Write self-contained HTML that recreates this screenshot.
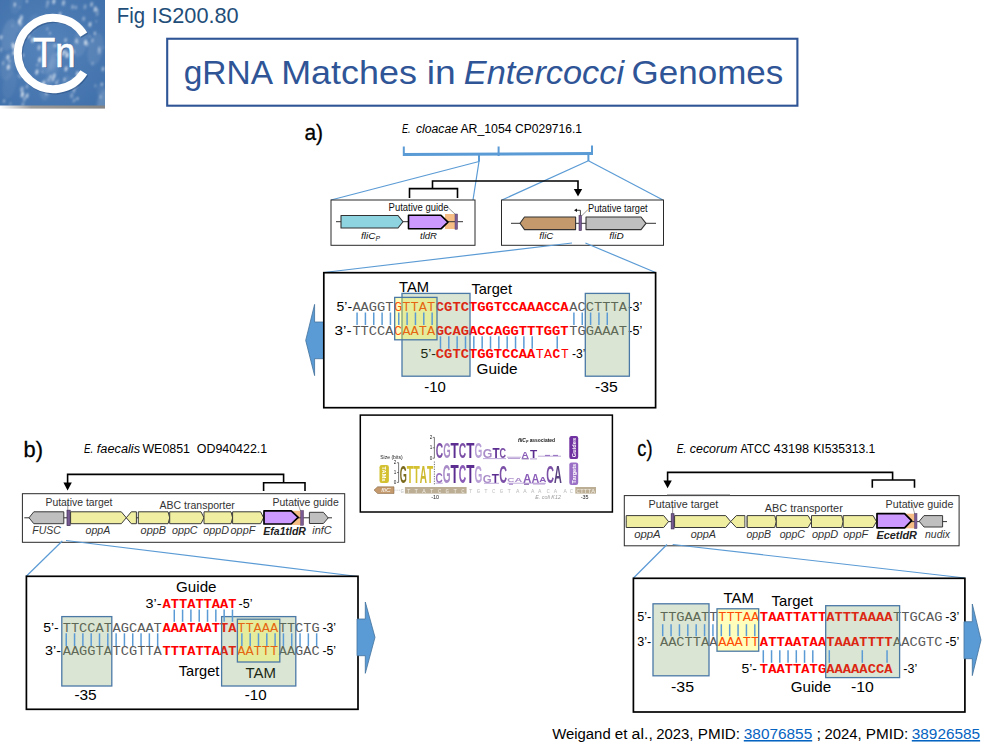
<!DOCTYPE html>
<html lang="en"><head><meta charset="utf-8"><title>gRNA Matches in Entercocci Genomes</title>
<style>
html,body{margin:0;padding:0;background:#fff;}
body{width:1000px;height:750px;overflow:hidden;}
svg{display:block;}
text{white-space:pre;}
</style></head><body>
<svg width="1000" height="750" viewBox="0 0 1000 750">
<defs>
<radialGradient id="lg" cx="0.45" cy="0.45" r="0.8"><stop offset="0" stop-color="#5583bb"/><stop offset="1" stop-color="#3f6fa9"/></radialGradient>
<filter id="sh" x="-20%" y="-20%" width="140%" height="140%"><feGaussianBlur stdDeviation="0.6"/></filter>
</defs>
<linearGradient id="sg" x1="0" x2="1" y1="0" y2="0"><stop offset="0" stop-color="#fff"/><stop offset="0.3" stop-color="#9a9a9a"/><stop offset="1" stop-color="#858585"/></linearGradient>
<filter id="sp" x="-5%" y="-5%" width="110%" height="110%"><feGaussianBlur stdDeviation="0.9"/></filter>
<clipPath id="lc"><rect x="0" y="0" width="105" height="105.5"/></clipPath>
<rect x="0.00" y="105.00" width="105.00" height="3.60" fill="url(#sg)" />
<rect x="0.00" y="0.00" width="105.00" height="105.50" fill="url(#lg)" />
<g clip-path="url(#lc)"><g filter="url(#sp)">
<ellipse cx="47.5" cy="58.8" rx="7.4" ry="15.8" fill="#fff" opacity="0.08" transform="rotate(12 47.5 58.8)"/>
<ellipse cx="53.3" cy="61.7" rx="4.3" ry="9.2" fill="#fff" opacity="0.09" transform="rotate(12 53.3 61.7)"/>
<ellipse cx="66.1" cy="83.3" rx="3.9" ry="8.3" fill="#fff" opacity="0.07" transform="rotate(12 66.1 83.3)"/>
<ellipse cx="9.5" cy="85.0" rx="6.4" ry="13.7" fill="#fff" opacity="0.05" transform="rotate(12 9.5 85.0)"/>
<ellipse cx="103.1" cy="101.3" rx="6.2" ry="13.4" fill="#fff" opacity="0.09" transform="rotate(12 103.1 101.3)"/>
<ellipse cx="16.5" cy="1.6" rx="5.7" ry="12.3" fill="#fff" opacity="0.05" transform="rotate(12 16.5 1.6)"/>
<ellipse cx="20.0" cy="25.4" rx="3.6" ry="7.8" fill="#fff" opacity="0.08" transform="rotate(12 20.0 25.4)"/>
<ellipse cx="46.3" cy="88.5" rx="5.7" ry="12.2" fill="#fff" opacity="0.09" transform="rotate(12 46.3 88.5)"/>
<ellipse cx="52.5" cy="69.6" rx="5.4" ry="11.6" fill="#fff" opacity="0.07" transform="rotate(12 52.5 69.6)"/>
<ellipse cx="104.8" cy="104.5" rx="7.0" ry="15.1" fill="#fff" opacity="0.10" transform="rotate(12 104.8 104.5)"/>
<ellipse cx="33.1" cy="24.1" rx="4.7" ry="10.1" fill="#fff" opacity="0.05" transform="rotate(12 33.1 24.1)"/>
<ellipse cx="80.5" cy="42.0" rx="7.1" ry="15.1" fill="#fff" opacity="0.08" transform="rotate(12 80.5 42.0)"/>
<ellipse cx="100.6" cy="89.0" rx="3.5" ry="7.5" fill="#fff" opacity="0.06" transform="rotate(12 100.6 89.0)"/>
<ellipse cx="95.6" cy="49.3" rx="7.6" ry="16.3" fill="#fff" opacity="0.08" transform="rotate(12 95.6 49.3)"/>
<ellipse cx="7.7" cy="66.1" rx="6.8" ry="14.5" fill="#fff" opacity="0.07" transform="rotate(12 7.7 66.1)"/>
<ellipse cx="9.2" cy="34.9" rx="7.5" ry="16.2" fill="#fff" opacity="0.10" transform="rotate(12 9.2 34.9)"/>
<ellipse cx="12.4" cy="25.9" rx="0.7" ry="1.4" fill="#fff" opacity="0.28" transform="rotate(12 12.4 25.9)"/>
<ellipse cx="83.7" cy="18.7" rx="1.2" ry="2.2" fill="#fff" opacity="0.45" transform="rotate(12 83.7 18.7)"/>
<ellipse cx="20.0" cy="76.8" rx="0.8" ry="1.4" fill="#fff" opacity="0.54" transform="rotate(12 20.0 76.8)"/>
<ellipse cx="12.2" cy="44.2" rx="0.8" ry="1.6" fill="#fff" opacity="0.37" transform="rotate(12 12.2 44.2)"/>
<ellipse cx="101.9" cy="84.4" rx="0.9" ry="1.7" fill="#fff" opacity="0.65" transform="rotate(12 101.9 84.4)"/>
<ellipse cx="22.1" cy="41.4" rx="1.5" ry="2.7" fill="#fff" opacity="0.54" transform="rotate(12 22.1 41.4)"/>
<ellipse cx="10.5" cy="103.9" rx="0.8" ry="1.6" fill="#fff" opacity="0.37" transform="rotate(12 10.5 103.9)"/>
<ellipse cx="81.1" cy="34.5" rx="0.9" ry="1.7" fill="#fff" opacity="0.28" transform="rotate(12 81.1 34.5)"/>
<ellipse cx="9.5" cy="61.2" rx="0.9" ry="1.6" fill="#fff" opacity="0.52" transform="rotate(12 9.5 61.2)"/>
<ellipse cx="39.0" cy="47.6" rx="1.6" ry="2.9" fill="#fff" opacity="0.47" transform="rotate(12 39.0 47.6)"/>
<ellipse cx="60.3" cy="91.0" rx="0.8" ry="1.5" fill="#fff" opacity="0.32" transform="rotate(12 60.3 91.0)"/>
<ellipse cx="95.4" cy="85.9" rx="0.9" ry="1.6" fill="#fff" opacity="0.34" transform="rotate(12 95.4 85.9)"/>
<ellipse cx="77.6" cy="98.7" rx="0.8" ry="1.6" fill="#fff" opacity="0.68" transform="rotate(12 77.6 98.7)"/>
<ellipse cx="92.6" cy="63.4" rx="1.0" ry="2.0" fill="#fff" opacity="0.30" transform="rotate(12 92.6 63.4)"/>
<ellipse cx="4.1" cy="101.1" rx="0.9" ry="1.6" fill="#fff" opacity="0.57" transform="rotate(12 4.1 101.1)"/>
<ellipse cx="27.0" cy="86.5" rx="1.2" ry="2.3" fill="#fff" opacity="0.38" transform="rotate(12 27.0 86.5)"/>
<ellipse cx="18.4" cy="75.6" rx="0.7" ry="1.3" fill="#fff" opacity="0.35" transform="rotate(12 18.4 75.6)"/>
<ellipse cx="58.7" cy="89.5" rx="1.2" ry="2.3" fill="#fff" opacity="0.38" transform="rotate(12 58.7 89.5)"/>
<ellipse cx="96.3" cy="21.4" rx="0.7" ry="1.2" fill="#fff" opacity="0.37" transform="rotate(12 96.3 21.4)"/>
<ellipse cx="46.8" cy="6.3" rx="0.8" ry="1.5" fill="#fff" opacity="0.42" transform="rotate(12 46.8 6.3)"/>
<ellipse cx="60.1" cy="13.8" rx="1.0" ry="1.9" fill="#fff" opacity="0.65" transform="rotate(12 60.1 13.8)"/>
<ellipse cx="103.0" cy="69.0" rx="1.3" ry="2.4" fill="#fff" opacity="0.51" transform="rotate(12 103.0 69.0)"/>
<ellipse cx="14.7" cy="3.7" rx="0.7" ry="1.2" fill="#fff" opacity="0.66" transform="rotate(12 14.7 3.7)"/>
<ellipse cx="73.6" cy="101.1" rx="0.7" ry="1.2" fill="#fff" opacity="0.54" transform="rotate(12 73.6 101.1)"/>
<ellipse cx="50.6" cy="76.7" rx="0.9" ry="1.8" fill="#fff" opacity="0.70" transform="rotate(12 50.6 76.7)"/>
<ellipse cx="7.9" cy="57.3" rx="1.3" ry="2.5" fill="#fff" opacity="0.66" transform="rotate(12 7.9 57.3)"/>
<ellipse cx="77.4" cy="73.9" rx="1.4" ry="2.6" fill="#fff" opacity="0.66" transform="rotate(12 77.4 73.9)"/>
<ellipse cx="36.9" cy="71.9" rx="1.5" ry="2.8" fill="#fff" opacity="0.64" transform="rotate(12 36.9 71.9)"/>
<ellipse cx="43.8" cy="83.0" rx="1.5" ry="2.8" fill="#fff" opacity="0.51" transform="rotate(12 43.8 83.0)"/>
<ellipse cx="65.6" cy="40.1" rx="1.2" ry="2.2" fill="#fff" opacity="0.52" transform="rotate(12 65.6 40.1)"/>
<ellipse cx="8.4" cy="67.1" rx="1.6" ry="3.0" fill="#fff" opacity="0.65" transform="rotate(12 8.4 67.1)"/>
<ellipse cx="76.5" cy="40.8" rx="1.3" ry="2.5" fill="#fff" opacity="0.51" transform="rotate(12 76.5 40.8)"/>
<ellipse cx="46.3" cy="88.0" rx="0.7" ry="1.4" fill="#fff" opacity="0.59" transform="rotate(12 46.3 88.0)"/>
<ellipse cx="3.1" cy="63.1" rx="1.1" ry="2.1" fill="#fff" opacity="0.35" transform="rotate(12 3.1 63.1)"/>
<ellipse cx="73.3" cy="52.2" rx="1.2" ry="2.3" fill="#fff" opacity="0.66" transform="rotate(12 73.3 52.2)"/>
<ellipse cx="26.9" cy="1.2" rx="0.9" ry="1.7" fill="#fff" opacity="0.56" transform="rotate(12 26.9 1.2)"/>
<ellipse cx="21.3" cy="17.8" rx="1.5" ry="2.8" fill="#fff" opacity="0.55" transform="rotate(12 21.3 17.8)"/>
<ellipse cx="46.4" cy="93.6" rx="1.0" ry="1.8" fill="#fff" opacity="0.55" transform="rotate(12 46.4 93.6)"/>
<ellipse cx="20.8" cy="45.2" rx="1.4" ry="2.7" fill="#fff" opacity="0.66" transform="rotate(12 20.8 45.2)"/>
<ellipse cx="92.4" cy="40.4" rx="1.2" ry="2.2" fill="#fff" opacity="0.39" transform="rotate(12 92.4 40.4)"/>
<ellipse cx="14.3" cy="52.1" rx="1.4" ry="2.7" fill="#fff" opacity="0.63" transform="rotate(12 14.3 52.1)"/>
<ellipse cx="74.7" cy="99.8" rx="0.9" ry="1.7" fill="#fff" opacity="0.33" transform="rotate(12 74.7 99.8)"/>
<ellipse cx="47.3" cy="28.9" rx="0.8" ry="1.6" fill="#fff" opacity="0.44" transform="rotate(12 47.3 28.9)"/>
<ellipse cx="65.7" cy="51.9" rx="0.9" ry="1.8" fill="#fff" opacity="0.63" transform="rotate(12 65.7 51.9)"/>
<ellipse cx="103.1" cy="47.5" rx="0.7" ry="1.3" fill="#fff" opacity="0.26" transform="rotate(12 103.1 47.5)"/>
<ellipse cx="91.6" cy="4.4" rx="1.3" ry="2.5" fill="#fff" opacity="0.51" transform="rotate(12 91.6 4.4)"/>
<ellipse cx="32.4" cy="83.1" rx="0.7" ry="1.2" fill="#fff" opacity="0.31" transform="rotate(12 32.4 83.1)"/>
<ellipse cx="47.8" cy="2.6" rx="1.4" ry="2.7" fill="#fff" opacity="0.36" transform="rotate(12 47.8 2.6)"/>
<ellipse cx="14.8" cy="4.9" rx="1.2" ry="2.3" fill="#fff" opacity="0.45" transform="rotate(12 14.8 4.9)"/>
<ellipse cx="66.1" cy="68.8" rx="1.4" ry="2.7" fill="#fff" opacity="0.68" transform="rotate(12 66.1 68.8)"/>
<ellipse cx="71.9" cy="20.9" rx="1.1" ry="2.1" fill="#fff" opacity="0.33" transform="rotate(12 71.9 20.9)"/>
<ellipse cx="1.1" cy="49.6" rx="1.3" ry="2.5" fill="#fff" opacity="0.33" transform="rotate(12 1.1 49.6)"/>
<ellipse cx="28.6" cy="36.3" rx="1.3" ry="2.5" fill="#fff" opacity="0.48" transform="rotate(12 28.6 36.3)"/>
<ellipse cx="64.5" cy="79.4" rx="1.0" ry="1.9" fill="#fff" opacity="0.61" transform="rotate(12 64.5 79.4)"/>
<ellipse cx="95.2" cy="9.2" rx="1.5" ry="2.9" fill="#fff" opacity="0.58" transform="rotate(12 95.2 9.2)"/>
<ellipse cx="13.6" cy="47.6" rx="1.2" ry="2.3" fill="#fff" opacity="0.66" transform="rotate(12 13.6 47.6)"/>
<ellipse cx="39.6" cy="59.7" rx="1.5" ry="2.8" fill="#fff" opacity="0.61" transform="rotate(12 39.6 59.7)"/>
<ellipse cx="99.1" cy="48.7" rx="1.3" ry="2.4" fill="#fff" opacity="0.34" transform="rotate(12 99.1 48.7)"/>
<ellipse cx="75.8" cy="85.9" rx="1.3" ry="2.4" fill="#fff" opacity="0.57" transform="rotate(12 75.8 85.9)"/>
<ellipse cx="22.4" cy="94.5" rx="1.6" ry="3.0" fill="#fff" opacity="0.69" transform="rotate(12 22.4 94.5)"/>
<ellipse cx="56.4" cy="83.0" rx="0.9" ry="1.8" fill="#fff" opacity="0.66" transform="rotate(12 56.4 83.0)"/>
<ellipse cx="89.9" cy="36.6" rx="0.7" ry="1.3" fill="#fff" opacity="0.45" transform="rotate(12 89.9 36.6)"/>
<ellipse cx="57.8" cy="80.7" rx="1.1" ry="2.1" fill="#fff" opacity="0.26" transform="rotate(12 57.8 80.7)"/>
<ellipse cx="85.0" cy="6.7" rx="1.4" ry="2.6" fill="#fff" opacity="0.33" transform="rotate(12 85.0 6.7)"/>
<ellipse cx="35.2" cy="82.7" rx="0.8" ry="1.5" fill="#fff" opacity="0.32" transform="rotate(12 35.2 82.7)"/>
<ellipse cx="54.2" cy="76.0" rx="1.4" ry="2.7" fill="#fff" opacity="0.56" transform="rotate(12 54.2 76.0)"/>
<ellipse cx="99.3" cy="51.7" rx="1.6" ry="2.9" fill="#fff" opacity="0.29" transform="rotate(12 99.3 51.7)"/>
<ellipse cx="23.2" cy="55.3" rx="0.9" ry="1.7" fill="#fff" opacity="0.58" transform="rotate(12 23.2 55.3)"/>
<ellipse cx="67.1" cy="54.9" rx="1.4" ry="2.7" fill="#fff" opacity="0.50" transform="rotate(12 67.1 54.9)"/>
<ellipse cx="32.7" cy="40.0" rx="1.5" ry="2.7" fill="#fff" opacity="0.66" transform="rotate(12 32.7 40.0)"/>
<ellipse cx="21.9" cy="89.3" rx="1.6" ry="2.9" fill="#fff" opacity="0.49" transform="rotate(12 21.9 89.3)"/>
<ellipse cx="60.2" cy="21.1" rx="1.2" ry="2.2" fill="#fff" opacity="0.48" transform="rotate(12 60.2 21.1)"/>
<ellipse cx="63.5" cy="2.9" rx="1.6" ry="2.9" fill="#fff" opacity="0.48" transform="rotate(12 63.5 2.9)"/>
<ellipse cx="42.1" cy="84.1" rx="1.2" ry="2.2" fill="#fff" opacity="0.47" transform="rotate(12 42.1 84.1)"/>
<ellipse cx="72.6" cy="6.9" rx="1.2" ry="2.2" fill="#fff" opacity="0.44" transform="rotate(12 72.6 6.9)"/>
<ellipse cx="100.5" cy="97.0" rx="0.9" ry="1.7" fill="#fff" opacity="0.46" transform="rotate(12 100.5 97.0)"/>
<ellipse cx="13.3" cy="45.5" rx="1.4" ry="2.7" fill="#fff" opacity="0.66" transform="rotate(12 13.3 45.5)"/>
<ellipse cx="50.0" cy="33.3" rx="0.8" ry="1.5" fill="#fff" opacity="0.53" transform="rotate(12 50.0 33.3)"/>
<ellipse cx="97.2" cy="13.6" rx="1.4" ry="2.6" fill="#fff" opacity="0.26" transform="rotate(12 97.2 13.6)"/>
<ellipse cx="20.4" cy="23.9" rx="1.3" ry="2.4" fill="#fff" opacity="0.39" transform="rotate(12 20.4 23.9)"/>
<ellipse cx="37.3" cy="65.1" rx="0.7" ry="1.4" fill="#fff" opacity="0.58" transform="rotate(12 37.3 65.1)"/>
<ellipse cx="12.9" cy="53.6" rx="0.9" ry="1.7" fill="#fff" opacity="0.34" transform="rotate(12 12.9 53.6)"/>
<ellipse cx="55.7" cy="45.9" rx="1.0" ry="1.9" fill="#fff" opacity="0.44" transform="rotate(12 55.7 45.9)"/>
<ellipse cx="55.6" cy="16.8" rx="0.8" ry="1.6" fill="#fff" opacity="0.53" transform="rotate(12 55.6 16.8)"/>
<ellipse cx="67.0" cy="55.6" rx="1.5" ry="2.7" fill="#fff" opacity="0.53" transform="rotate(12 67.0 55.6)"/>
<ellipse cx="90.0" cy="24.4" rx="1.4" ry="2.5" fill="#fff" opacity="0.61" transform="rotate(12 90.0 24.4)"/>
<ellipse cx="94.8" cy="33.2" rx="0.9" ry="1.8" fill="#fff" opacity="0.67" transform="rotate(12 94.8 33.2)"/>
<ellipse cx="22.9" cy="104.8" rx="1.5" ry="2.8" fill="#fff" opacity="0.31" transform="rotate(12 22.9 104.8)"/>
<ellipse cx="25.1" cy="76.3" rx="0.9" ry="1.7" fill="#fff" opacity="0.29" transform="rotate(12 25.1 76.3)"/>
<ellipse cx="87.4" cy="44.3" rx="1.4" ry="2.6" fill="#fff" opacity="0.31" transform="rotate(12 87.4 44.3)"/>
<ellipse cx="42.3" cy="71.9" rx="0.7" ry="1.2" fill="#fff" opacity="0.34" transform="rotate(12 42.3 71.9)"/>
<ellipse cx="71.7" cy="95.7" rx="1.6" ry="2.9" fill="#fff" opacity="0.30" transform="rotate(12 71.7 95.7)"/>
<ellipse cx="53.1" cy="79.6" rx="1.1" ry="2.1" fill="#fff" opacity="0.56" transform="rotate(12 53.1 79.6)"/>
<ellipse cx="19.8" cy="7.4" rx="0.7" ry="1.4" fill="#fff" opacity="0.27" transform="rotate(12 19.8 7.4)"/>
<ellipse cx="57.9" cy="54.1" rx="1.2" ry="2.2" fill="#fff" opacity="0.32" transform="rotate(12 57.9 54.1)"/>
<ellipse cx="19.4" cy="21.4" rx="1.4" ry="2.7" fill="#fff" opacity="0.70" transform="rotate(12 19.4 21.4)"/>
<ellipse cx="97.3" cy="10.0" rx="0.7" ry="1.3" fill="#fff" opacity="0.68" transform="rotate(12 97.3 10.0)"/>
<ellipse cx="48.5" cy="80.3" rx="1.0" ry="1.8" fill="#fff" opacity="0.46" transform="rotate(12 48.5 80.3)"/>
<ellipse cx="54.1" cy="45.2" rx="1.2" ry="2.3" fill="#fff" opacity="0.26" transform="rotate(12 54.1 45.2)"/>
<ellipse cx="73.6" cy="88.6" rx="0.8" ry="1.5" fill="#fff" opacity="0.45" transform="rotate(12 73.6 88.6)"/>
<ellipse cx="77.6" cy="42.6" rx="0.8" ry="1.6" fill="#fff" opacity="0.32" transform="rotate(12 77.6 42.6)"/>
<ellipse cx="53.8" cy="1.6" rx="1.5" ry="2.8" fill="#fff" opacity="0.61" transform="rotate(12 53.8 1.6)"/>
<ellipse cx="74.0" cy="90.4" rx="1.2" ry="2.3" fill="#fff" opacity="0.43" transform="rotate(12 74.0 90.4)"/>
<ellipse cx="63.0" cy="53.0" rx="1.6" ry="3.0" fill="#fff" opacity="0.61" transform="rotate(12 63.0 53.0)"/>
<ellipse cx="27.1" cy="95.7" rx="1.4" ry="2.5" fill="#fff" opacity="0.60" transform="rotate(12 27.1 95.7)"/>
<ellipse cx="85.5" cy="42.6" rx="1.5" ry="2.8" fill="#fff" opacity="0.65" transform="rotate(12 85.5 42.6)"/>
<ellipse cx="73.0" cy="80.6" rx="1.4" ry="2.6" fill="#fff" opacity="0.43" transform="rotate(12 73.0 80.6)"/>
<ellipse cx="75.9" cy="7.4" rx="1.0" ry="1.8" fill="#fff" opacity="0.46" transform="rotate(12 75.9 7.4)"/>
<ellipse cx="1.1" cy="37.3" rx="1.3" ry="2.3" fill="#fff" opacity="0.53" transform="rotate(12 1.1 37.3)"/>
<ellipse cx="24.4" cy="99.2" rx="1.3" ry="2.4" fill="#fff" opacity="0.40" transform="rotate(12 24.4 99.2)"/>
</g></g>
<path d="M84.78,35.78 A35.7,35.7 0 1 0 84.78,73.62" fill="none" stroke="#2c4f80" stroke-opacity="0.55" stroke-width="8" filter="url(#sh)"/>
<path d="M83.78,34.58 A35.7,35.7 0 1 0 83.78,72.42" fill="none" stroke="#fff" stroke-width="8"/>
<text x="34.20" y="68.20" font-size="43" fill="#2c4f80" font-family='"Liberation Sans", "DejaVu Sans", sans-serif' textLength="42.50" lengthAdjust="spacingAndGlyphs" opacity="0.5" filter="url(#sh)">Tn</text>
<text x="33.00" y="67.00" font-size="43" fill="#fff" font-family='"Liberation Sans", "DejaVu Sans", sans-serif' textLength="42.50" lengthAdjust="spacingAndGlyphs" stroke="#fff" stroke-width="0.7">Tn</text>
<text x="116.70" y="23.30" font-size="21.6" fill="#1f4e79" font-family='"Liberation Sans", "DejaVu Sans", sans-serif' textLength="28.30" lengthAdjust="spacingAndGlyphs" >Fig</text>
<text x="151.70" y="23.30" font-size="21.6" fill="#1f4e79" font-family='"Liberation Sans", "DejaVu Sans", sans-serif' textLength="87.00" lengthAdjust="spacingAndGlyphs" >IS200.80</text>
<rect x="167.20" y="38.75" width="630.20" height="66.95" fill="none" stroke="#2f5597" stroke-width="2.1" />
<text x="183.75" y="84.40" font-size="33.8" fill="#2f5597" font-family='"Liberation Sans", "DejaVu Sans", sans-serif' textLength="89.30" lengthAdjust="spacingAndGlyphs" >gRNA</text>
<text x="281.15" y="84.40" font-size="33.8" fill="#2f5597" font-family='"Liberation Sans", "DejaVu Sans", sans-serif' textLength="135.70" lengthAdjust="spacingAndGlyphs" >Matches</text>
<text x="426.75" y="84.40" font-size="33.8" fill="#2f5597" font-family='"Liberation Sans", "DejaVu Sans", sans-serif' textLength="29.00" lengthAdjust="spacingAndGlyphs" >in</text>
<text x="463.75" y="84.40" font-size="33.8" fill="#2f5597" font-family='"Liberation Sans", "DejaVu Sans", sans-serif' textLength="160.30" lengthAdjust="spacingAndGlyphs" font-style="italic" >Entercocci</text>
<text x="631.55" y="84.40" font-size="33.8" fill="#2f5597" font-family='"Liberation Sans", "DejaVu Sans", sans-serif' textLength="151.70" lengthAdjust="spacingAndGlyphs" >Genomes</text>
<text x="304.40" y="139.80" font-size="22.3" fill="#000" font-family='"Liberation Sans", "DejaVu Sans", sans-serif' textLength="18.60" lengthAdjust="spacingAndGlyphs" stroke="#000" stroke-width="0.3">a)</text>
<text x="402.00" y="132.70" font-size="12" fill="#000" font-family='"Liberation Sans", "DejaVu Sans", sans-serif' textLength="8.60" lengthAdjust="spacingAndGlyphs" font-style="italic" >E.</text>
<text x="416.00" y="132.70" font-size="12" fill="#000" font-family='"Liberation Sans", "DejaVu Sans", sans-serif' textLength="42.00" lengthAdjust="spacingAndGlyphs" font-style="italic" >cloacae</text>
<text x="460.40" y="132.70" font-size="12" fill="#000" font-family='"Liberation Sans", "DejaVu Sans", sans-serif' textLength="51.20" lengthAdjust="spacingAndGlyphs" >AR_1054</text>
<text x="515.00" y="132.70" font-size="12" fill="#000" font-family='"Liberation Sans", "DejaVu Sans", sans-serif' textLength="67.00" lengthAdjust="spacingAndGlyphs" >CP029716.1</text>
<line x1="403.40" y1="154.60" x2="592.60" y2="153.60" stroke="#5b9bd5" stroke-width="3" />
<line x1="403.80" y1="146.50" x2="403.80" y2="156.00" stroke="#5b9bd5" stroke-width="2" />
<line x1="592.00" y1="145.50" x2="592.00" y2="155.00" stroke="#5b9bd5" stroke-width="2" />
<line x1="498.60" y1="146.50" x2="498.60" y2="156.00" stroke="#5b9bd5" stroke-width="2" />
<line x1="479.00" y1="154.00" x2="479.00" y2="161.80" stroke="#5b9bd5" stroke-width="2" />
<line x1="588.40" y1="154.00" x2="588.40" y2="161.00" stroke="#5b9bd5" stroke-width="2" />
<line x1="479.00" y1="161.50" x2="331.00" y2="200.00" stroke="#5b9bd5" stroke-width="1.2" />
<line x1="479.00" y1="161.50" x2="473.00" y2="200.00" stroke="#5b9bd5" stroke-width="1.2" />
<line x1="588.40" y1="160.80" x2="502.00" y2="200.00" stroke="#5b9bd5" stroke-width="1.2" />
<line x1="588.40" y1="160.80" x2="663.00" y2="200.00" stroke="#5b9bd5" stroke-width="1.2" />
<polyline points="409.50,198.00 409.50,188.60 457.50,188.60 457.50,198.00" fill="none" stroke="#000" stroke-width="1.6" />
<polyline points="432.50,188.60 432.50,181.00 578.00,181.00 578.00,190.00" fill="none" stroke="#000" stroke-width="1.6" />
<polygon points="573.80,189.00 582.20,189.00 578.00,196.60" fill="#000" />
<rect x="331.00" y="200.00" width="144.00" height="45.30" fill="#fff" stroke="#2a2a2a" stroke-width="1" />
<rect x="445.00" y="214.00" width="12.40" height="15.00" fill="#f6bd84" />
<line x1="336.00" y1="221.70" x2="463.00" y2="221.70" stroke="#333" stroke-width="1" />
<polygon points="341.00,215.50 398.00,215.50 403.00,221.75 398.00,228.00 341.00,228.00" fill="#8dd3e0" stroke="#333" stroke-width="1.1" stroke-linejoin="round"/>
<polygon points="408.50,215.30 441.00,215.30 448.00,222.05 441.00,228.80 408.50,228.80" fill="#cc99ff" stroke="#000" stroke-width="1.6" stroke-linejoin="round"/>
<rect x="455.00" y="214.00" width="2.50" height="15.30" fill="#7a5c94" stroke="#5a4070" stroke-width="0.5" />
<line x1="448.00" y1="207.50" x2="455.50" y2="214.50" stroke="#666" stroke-width="0.7" />
<text x="388.60" y="210.60" font-size="10" fill="#111" font-family='"Liberation Sans", "DejaVu Sans", sans-serif' textLength="60.00" lengthAdjust="spacingAndGlyphs" >Putative guide</text>
<text x="361.00" y="239.00" font-size="9.4" fill="#111" font-family='"Liberation Sans", "DejaVu Sans", sans-serif' textLength="14.50" lengthAdjust="spacingAndGlyphs" font-style="italic" >fliC</text>
<text x="375.60" y="241.30" font-size="6.8" fill="#111" font-family='"Liberation Sans", "DejaVu Sans", sans-serif' font-style="italic" >P</text>
<text x="420.00" y="239.00" font-size="9.4" fill="#111" font-family='"Liberation Sans", "DejaVu Sans", sans-serif' textLength="17.00" lengthAdjust="spacingAndGlyphs" font-style="italic" >tldR</text>
<rect x="501.50" y="200.00" width="162.00" height="45.30" fill="#fff" stroke="#2a2a2a" stroke-width="1" />
<line x1="511.00" y1="223.30" x2="656.00" y2="223.30" stroke="#333" stroke-width="1" />
<polygon points="575.60,217.00 524.50,217.00 520.00,223.30 524.50,229.60 575.60,229.60" fill="#c49a6c" stroke="#333" stroke-width="1.1" stroke-linejoin="round"/>
<polygon points="586.00,217.00 641.00,217.00 646.00,223.30 641.00,229.60 586.00,229.60" fill="#bfbfbf" stroke="#333" stroke-width="1.1" stroke-linejoin="round"/>
<rect x="579.00" y="215.60" width="2.50" height="15.00" fill="#7a5c94" stroke="#4a3560" stroke-width="0.6" />
<polyline points="580.40,215.50 580.40,210.30 576.50,210.30" fill="none" stroke="#111" stroke-width="0.8" />
<polygon points="577.00,208.50 577.00,212.10 574.00,210.30" fill="#111" />
<line x1="588.00" y1="209.50" x2="581.50" y2="216.00" stroke="#666" stroke-width="0.7" />
<text x="588.00" y="211.60" font-size="10" fill="#111" font-family='"Liberation Sans", "DejaVu Sans", sans-serif' textLength="59.60" lengthAdjust="spacingAndGlyphs" >Putative target</text>
<text x="539.30" y="238.60" font-size="9.4" fill="#111" font-family='"Liberation Sans", "DejaVu Sans", sans-serif' textLength="14.00" lengthAdjust="spacingAndGlyphs" font-style="italic" >fliC</text>
<text x="609.30" y="238.60" font-size="9.4" fill="#111" font-family='"Liberation Sans", "DejaVu Sans", sans-serif' textLength="14.40" lengthAdjust="spacingAndGlyphs" font-style="italic" >fliD</text>
<line x1="572.00" y1="243.00" x2="324.00" y2="272.50" stroke="#5b9bd5" stroke-width="1.2" />
<line x1="585.40" y1="243.00" x2="655.60" y2="272.50" stroke="#5b9bd5" stroke-width="1.2" />
<polygon points="305.70,340.40 314.60,304.40 314.60,322.00 324.00,322.00 324.00,358.70 314.60,358.70 314.60,375.60" fill="#5b9bd5" stroke="#41719c" stroke-width="0.8" />
<rect x="323.80" y="272.70" width="331.80" height="135.00" fill="#fff" stroke="#000" stroke-width="1.7" />
<text x="336.60" y="311.00" font-size="12" fill="#000" font-family='"Liberation Sans", "DejaVu Sans", sans-serif' textLength="15.50" lengthAdjust="spacingAndGlyphs" >5’-</text>
<text x="352.40" y="311.00" font-size="12" fill="#595959" font-family='"Liberation Mono", "DejaVu Sans Mono", monospace' textLength="41.10" lengthAdjust="spacingAndGlyphs" >AAGGT</text>
<text x="394.10" y="311.00" font-size="12" fill="#ff0000" font-family='"Liberation Mono", "DejaVu Sans Mono", monospace' textLength="41.10" lengthAdjust="spacingAndGlyphs" >GTTAT</text>
<text x="435.80" y="311.00" font-size="12.2" fill="#ff0000" font-family='"Liberation Mono", "DejaVu Sans Mono", monospace' textLength="132.84" lengthAdjust="spacingAndGlyphs" font-weight="bold" >CGTCTGGTCCAAACCA</text>
<text x="569.24" y="311.00" font-size="12" fill="#595959" font-family='"Liberation Mono", "DejaVu Sans Mono", monospace' textLength="57.78" lengthAdjust="spacingAndGlyphs" >ACCTTTA</text>
<text x="628.20" y="311.00" font-size="12" fill="#000" font-family='"Liberation Sans", "DejaVu Sans", sans-serif' textLength="14.00" lengthAdjust="spacingAndGlyphs" >-3’</text>
<text x="334.60" y="334.80" font-size="12" fill="#000" font-family='"Liberation Sans", "DejaVu Sans", sans-serif' textLength="17.00" lengthAdjust="spacingAndGlyphs" >3’-</text>
<text x="352.40" y="334.80" font-size="12" fill="#595959" font-family='"Liberation Mono", "DejaVu Sans Mono", monospace' textLength="41.10" lengthAdjust="spacingAndGlyphs" >TTCCA</text>
<text x="394.10" y="334.80" font-size="12" fill="#ff0000" font-family='"Liberation Mono", "DejaVu Sans Mono", monospace' textLength="41.10" lengthAdjust="spacingAndGlyphs" >CAATA</text>
<text x="435.80" y="334.80" font-size="12.2" fill="#ff0000" font-family='"Liberation Mono", "DejaVu Sans Mono", monospace' textLength="132.84" lengthAdjust="spacingAndGlyphs" font-weight="bold" >GCAGACCAGGTTTGGT</text>
<text x="569.24" y="334.80" font-size="12" fill="#595959" font-family='"Liberation Mono", "DejaVu Sans Mono", monospace' textLength="57.78" lengthAdjust="spacingAndGlyphs" >TGGAAAT</text>
<text x="628.20" y="334.80" font-size="12" fill="#000" font-family='"Liberation Sans", "DejaVu Sans", sans-serif' textLength="14.00" lengthAdjust="spacingAndGlyphs" >-5’</text>
<text x="420.40" y="358.20" font-size="12" fill="#000" font-family='"Liberation Sans", "DejaVu Sans", sans-serif' textLength="15.50" lengthAdjust="spacingAndGlyphs" >5’-</text>
<text x="435.80" y="358.20" font-size="12.2" fill="#ff0000" font-family='"Liberation Mono", "DejaVu Sans Mono", monospace' textLength="99.48" lengthAdjust="spacingAndGlyphs" font-weight="bold" >CGTCTGGTCCAA</text>
<text x="535.88" y="358.20" font-size="12" fill="#ff0000" font-family='"Liberation Mono", "DejaVu Sans Mono", monospace' textLength="16.08" lengthAdjust="spacingAndGlyphs" >TA</text>
<text x="552.56" y="358.20" font-size="12.2" fill="#ff0000" font-family='"Liberation Mono", "DejaVu Sans Mono", monospace' textLength="7.74" lengthAdjust="spacingAndGlyphs" font-weight="bold" >C</text>
<text x="560.90" y="358.20" font-size="12" fill="#ff0000" font-family='"Liberation Mono", "DejaVu Sans Mono", monospace' textLength="7.74" lengthAdjust="spacingAndGlyphs" >T</text>
<text x="572.00" y="358.20" font-size="12" fill="#000" font-family='"Liberation Sans", "DejaVu Sans", sans-serif' textLength="13.50" lengthAdjust="spacingAndGlyphs" >-3’</text>
<text x="399.00" y="291.50" font-size="14.2" fill="#000" font-family='"Liberation Sans", "DejaVu Sans", sans-serif' textLength="30.00" lengthAdjust="spacingAndGlyphs" >TAM</text>
<text x="471.40" y="294.30" font-size="14.2" fill="#000" font-family='"Liberation Sans", "DejaVu Sans", sans-serif' textLength="40.60" lengthAdjust="spacingAndGlyphs" >Target</text>
<text x="476.50" y="373.70" font-size="14.2" fill="#000" font-family='"Liberation Sans", "DejaVu Sans", sans-serif' textLength="41.00" lengthAdjust="spacingAndGlyphs" >Guide</text>
<text x="424.20" y="391.90" font-size="14.2" fill="#000" font-family='"Liberation Sans", "DejaVu Sans", sans-serif' textLength="21.60" lengthAdjust="spacingAndGlyphs" >-10</text>
<text x="595.10" y="391.90" font-size="14.2" fill="#000" font-family='"Liberation Sans", "DejaVu Sans", sans-serif' textLength="22.80" lengthAdjust="spacingAndGlyphs" >-35</text>
<rect x="402.00" y="293.40" width="68.00" height="82.80" fill="rgba(112,150,80,0.25)" stroke="#4a79a6" stroke-width="1.3" />
<rect x="394.70" y="297.40" width="42.30" height="42.40" fill="rgba(255,255,20,0.29)" stroke="#4a79a6" stroke-width="1.3" />
<rect x="585.30" y="293.40" width="44.10" height="82.80" fill="rgba(112,150,80,0.25)" stroke="#4a79a6" stroke-width="1.3" />
<text x="23.60" y="456.70" font-size="22.3" fill="#000" font-family='"Liberation Sans", "DejaVu Sans", sans-serif' textLength="19.40" lengthAdjust="spacingAndGlyphs" stroke="#000" stroke-width="0.3">b)</text>
<text x="84.00" y="452.50" font-size="12" fill="#000" font-family='"Liberation Sans", "DejaVu Sans", sans-serif' textLength="9.20" lengthAdjust="spacingAndGlyphs" font-style="italic" >E.</text>
<text x="96.80" y="452.50" font-size="12" fill="#000" font-family='"Liberation Sans", "DejaVu Sans", sans-serif' textLength="43.20" lengthAdjust="spacingAndGlyphs" font-style="italic" >faecalis</text>
<text x="142.40" y="452.50" font-size="12" fill="#000" font-family='"Liberation Sans", "DejaVu Sans", sans-serif' textLength="47.60" lengthAdjust="spacingAndGlyphs" >WE0851</text>
<text x="196.80" y="452.50" font-size="12" fill="#000" font-family='"Liberation Sans", "DejaVu Sans", sans-serif' textLength="70.40" lengthAdjust="spacingAndGlyphs" >OD940422.1</text>
<polyline points="67.60,483.00 67.60,474.40 283.60,474.40 283.60,482.70" fill="none" stroke="#000" stroke-width="1.6" />
<polygon points="63.40,482.50 71.80,482.50 67.60,490.40" fill="#000" />
<polyline points="263.60,491.00 263.60,482.70 305.00,482.70 305.00,491.00" fill="none" stroke="#000" stroke-width="1.6" />
<rect x="22.40" y="493.70" width="322.30" height="48.60" fill="#fff" stroke="#2a2a2a" stroke-width="1" />
<rect x="292.00" y="510.80" width="11.50" height="14.20" fill="#f6bd84" />
<line x1="24.30" y1="517.80" x2="332.00" y2="517.80" stroke="#333" stroke-width="1" />
<polygon points="63.80,511.80 33.80,511.80 29.00,517.75 33.80,523.70 63.80,523.70" fill="#bfbfbf" stroke="#3a3a3a" stroke-width="1" stroke-linejoin="round"/>
<line x1="67.80" y1="502.00" x2="67.80" y2="510.00" stroke="#555" stroke-width="0.6" />
<rect x="67.00" y="510.20" width="3.20" height="15.40" fill="#7a5c94" stroke="#3a2a50" stroke-width="0.7" />
<polygon points="70.60,511.80 121.30,511.80 126.30,517.75 121.30,523.70 70.60,523.70" fill="#f0eea0" stroke="#3a3a3a" stroke-width="1" stroke-linejoin="round"/>
<polygon points="136.40,511.80 131.30,511.80 126.30,517.75 131.30,523.70 136.40,523.70" fill="#f0eea0" stroke="#3a3a3a" stroke-width="1" stroke-linejoin="round"/>
<polygon points="138.30,511.80 168.10,511.80 169.70,517.75 168.10,523.70 138.30,523.70" fill="#f0eea0" stroke="#3a3a3a" stroke-width="1" stroke-linejoin="round"/>
<polygon points="169.70,511.80 201.00,511.80 204.00,517.75 201.00,523.70 169.70,523.70" fill="#f0eea0" stroke="#3a3a3a" stroke-width="1" stroke-linejoin="round"/>
<polygon points="204.00,511.80 231.00,511.80 232.60,517.75 231.00,523.70 204.00,523.70" fill="#f0eea0" stroke="#3a3a3a" stroke-width="1" stroke-linejoin="round"/>
<polygon points="232.60,511.80 260.60,511.80 263.60,517.75 260.60,523.70 232.60,523.70" fill="#f0eea0" stroke="#3a3a3a" stroke-width="1" stroke-linejoin="round"/>
<polygon points="264.00,510.80 291.20,510.80 298.20,517.40 291.20,524.00 264.00,524.00" fill="#cc99ff" stroke="#000" stroke-width="1.7" stroke-linejoin="round"/>
<rect x="300.70" y="510.50" width="2.80" height="14.80" fill="#7a5c94" stroke="#5a4070" stroke-width="0.5" />
<polygon points="309.40,512.30 323.40,512.30 328.20,517.90 323.40,523.50 309.40,523.50" fill="#bfbfbf" stroke="#3a3a3a" stroke-width="1" stroke-linejoin="round"/>
<line x1="296.50" y1="500.00" x2="300.50" y2="510.80" stroke="#666" stroke-width="0.6" />
<text x="45.50" y="505.70" font-size="10" fill="#333" font-family='"Liberation Sans", "DejaVu Sans", sans-serif' textLength="67.00" lengthAdjust="spacingAndGlyphs" >Putative target</text>
<text x="159.60" y="508.50" font-size="10" fill="#333" font-family='"Liberation Sans", "DejaVu Sans", sans-serif' textLength="75.20" lengthAdjust="spacingAndGlyphs" >ABC transporter</text>
<text x="272.50" y="505.70" font-size="10" fill="#333" font-family='"Liberation Sans", "DejaVu Sans", sans-serif' textLength="66.20" lengthAdjust="spacingAndGlyphs" >Putative guide</text>
<text x="32.30" y="534.00" font-size="10" fill="#333" font-family='"Liberation Sans", "DejaVu Sans", sans-serif' textLength="28.50" lengthAdjust="spacingAndGlyphs" font-style="italic" >FUSC</text>
<text x="85.50" y="534.00" font-size="10" fill="#333" font-family='"Liberation Sans", "DejaVu Sans", sans-serif' textLength="24.70" lengthAdjust="spacingAndGlyphs" font-style="italic" >oppA</text>
<text x="140.60" y="534.00" font-size="10" fill="#333" font-family='"Liberation Sans", "DejaVu Sans", sans-serif' textLength="25.40" lengthAdjust="spacingAndGlyphs" font-style="italic" >oppB</text>
<text x="172.00" y="534.00" font-size="10" fill="#333" font-family='"Liberation Sans", "DejaVu Sans", sans-serif' textLength="25.60" lengthAdjust="spacingAndGlyphs" font-style="italic" >oppC</text>
<text x="203.30" y="534.00" font-size="10" fill="#333" font-family='"Liberation Sans", "DejaVu Sans", sans-serif' textLength="25.70" lengthAdjust="spacingAndGlyphs" font-style="italic" >oppD</text>
<text x="230.60" y="534.00" font-size="10" fill="#333" font-family='"Liberation Sans", "DejaVu Sans", sans-serif' textLength="24.70" lengthAdjust="spacingAndGlyphs" font-style="italic" >oppF</text>
<text x="263.30" y="535.00" font-size="10" fill="#222" font-family='"Liberation Sans", "DejaVu Sans", sans-serif' textLength="42.60" lengthAdjust="spacingAndGlyphs" font-weight="bold" font-style="italic" >Efa1tldR</text>
<text x="312.30" y="534.00" font-size="10" fill="#333" font-family='"Liberation Sans", "DejaVu Sans", sans-serif' textLength="19.40" lengthAdjust="spacingAndGlyphs" font-style="italic" >infC</text>
<line x1="62.30" y1="541.00" x2="26.00" y2="576.50" stroke="#5b9bd5" stroke-width="1.2" />
<line x1="66.00" y1="540.50" x2="358.00" y2="576.50" stroke="#5b9bd5" stroke-width="1.2" />
<rect x="26.40" y="576.30" width="331.60" height="133.00" fill="#fff" stroke="#000" stroke-width="1.7" />
<polygon points="357.00,619.00 365.30,619.00 365.30,602.00 375.00,637.30 365.30,673.30 365.30,655.70 357.00,655.70" fill="#5b9bd5" stroke="#41719c" stroke-width="0.8" />
<text x="176.10" y="591.70" font-size="14.2" fill="#000" font-family='"Liberation Sans", "DejaVu Sans", sans-serif' textLength="40.40" lengthAdjust="spacingAndGlyphs" >Guide</text>
<text x="145.50" y="608.00" font-size="12" fill="#000" font-family='"Liberation Sans", "DejaVu Sans", sans-serif' textLength="16.00" lengthAdjust="spacingAndGlyphs" >3’-</text>
<text x="162.42" y="608.00" font-size="12.2" fill="#ff0000" font-family='"Liberation Mono", "DejaVu Sans Mono", monospace' textLength="74.19" lengthAdjust="spacingAndGlyphs" font-weight="bold" >ATTATTAAT</text>
<text x="238.50" y="608.00" font-size="12" fill="#000" font-family='"Liberation Sans", "DejaVu Sans", sans-serif' textLength="14.00" lengthAdjust="spacingAndGlyphs" >-5’</text>
<text x="43.20" y="632.30" font-size="12" fill="#000" font-family='"Liberation Sans", "DejaVu Sans", sans-serif' textLength="15.50" lengthAdjust="spacingAndGlyphs" >5’-</text>
<text x="62.70" y="632.30" font-size="12" fill="#595959" font-family='"Liberation Mono", "DejaVu Sans Mono", monospace' textLength="49.26" lengthAdjust="spacingAndGlyphs" >TTCCAT</text>
<text x="112.56" y="632.30" font-size="12" fill="#595959" font-family='"Liberation Mono", "DejaVu Sans Mono", monospace' textLength="49.26" lengthAdjust="spacingAndGlyphs" >AGCAAT</text>
<text x="162.42" y="632.30" font-size="12.2" fill="#ff0000" font-family='"Liberation Mono", "DejaVu Sans Mono", monospace' textLength="74.19" lengthAdjust="spacingAndGlyphs" font-weight="bold" >AAATAATTA</text>
<text x="237.21" y="632.30" font-size="12" fill="#ff0000" font-family='"Liberation Mono", "DejaVu Sans Mono", monospace' textLength="40.95" lengthAdjust="spacingAndGlyphs" >TTAAA</text>
<text x="278.76" y="632.30" font-size="12" fill="#595959" font-family='"Liberation Mono", "DejaVu Sans Mono", monospace' textLength="40.95" lengthAdjust="spacingAndGlyphs" >TTCTG</text>
<text x="322.40" y="632.30" font-size="12" fill="#000" font-family='"Liberation Sans", "DejaVu Sans", sans-serif' textLength="13.60" lengthAdjust="spacingAndGlyphs" >-3’</text>
<text x="45.00" y="654.80" font-size="12" fill="#000" font-family='"Liberation Sans", "DejaVu Sans", sans-serif' textLength="16.00" lengthAdjust="spacingAndGlyphs" >3’-</text>
<text x="62.70" y="654.80" font-size="12" fill="#595959" font-family='"Liberation Mono", "DejaVu Sans Mono", monospace' textLength="49.26" lengthAdjust="spacingAndGlyphs" >AAGGTA</text>
<text x="112.56" y="654.80" font-size="12" fill="#595959" font-family='"Liberation Mono", "DejaVu Sans Mono", monospace' textLength="49.26" lengthAdjust="spacingAndGlyphs" >TCGTTA</text>
<text x="162.42" y="654.80" font-size="12.2" fill="#ff0000" font-family='"Liberation Mono", "DejaVu Sans Mono", monospace' textLength="74.19" lengthAdjust="spacingAndGlyphs" font-weight="bold" >TTTATTAAT</text>
<text x="237.21" y="654.80" font-size="12" fill="#ff0000" font-family='"Liberation Mono", "DejaVu Sans Mono", monospace' textLength="40.95" lengthAdjust="spacingAndGlyphs" >AATTT</text>
<text x="278.76" y="654.80" font-size="12" fill="#595959" font-family='"Liberation Mono", "DejaVu Sans Mono", monospace' textLength="40.95" lengthAdjust="spacingAndGlyphs" >AAGAC</text>
<text x="322.40" y="654.80" font-size="12" fill="#000" font-family='"Liberation Sans", "DejaVu Sans", sans-serif' textLength="13.60" lengthAdjust="spacingAndGlyphs" >-5’</text>
<text x="178.80" y="676.10" font-size="14.2" fill="#000" font-family='"Liberation Sans", "DejaVu Sans", sans-serif' textLength="40.60" lengthAdjust="spacingAndGlyphs" >Target</text>
<text x="245.50" y="678.00" font-size="14.2" fill="#000" font-family='"Liberation Sans", "DejaVu Sans", sans-serif' textLength="30.50" lengthAdjust="spacingAndGlyphs" >TAM</text>
<text x="74.40" y="699.60" font-size="14.2" fill="#000" font-family='"Liberation Sans", "DejaVu Sans", sans-serif' textLength="22.30" lengthAdjust="spacingAndGlyphs" >-35</text>
<text x="244.80" y="699.60" font-size="14.2" fill="#000" font-family='"Liberation Sans", "DejaVu Sans", sans-serif' textLength="21.80" lengthAdjust="spacingAndGlyphs" >-10</text>
<rect x="61.80" y="616.60" width="50.00" height="69.40" fill="rgba(112,150,80,0.25)" stroke="#4a79a6" stroke-width="1.3" />
<rect x="221.60" y="616.60" width="74.20" height="69.40" fill="rgba(112,150,80,0.25)" stroke="#4a79a6" stroke-width="1.3" />
<rect x="237.40" y="619.20" width="42.40" height="42.80" fill="rgba(255,255,20,0.29)" stroke="#4a79a6" stroke-width="1.3" />
<text x="637.30" y="455.80" font-size="22.3" fill="#000" font-family='"Liberation Sans", "DejaVu Sans", sans-serif' textLength="15.20" lengthAdjust="spacingAndGlyphs" stroke="#000" stroke-width="0.3">c)</text>
<text x="676.80" y="453.00" font-size="12" fill="#000" font-family='"Liberation Sans", "DejaVu Sans", sans-serif' textLength="9.60" lengthAdjust="spacingAndGlyphs" font-style="italic" >E.</text>
<text x="689.80" y="453.00" font-size="12" fill="#000" font-family='"Liberation Sans", "DejaVu Sans", sans-serif' textLength="47.60" lengthAdjust="spacingAndGlyphs" font-style="italic" >cecorum</text>
<text x="740.40" y="453.00" font-size="12" fill="#000" font-family='"Liberation Sans", "DejaVu Sans", sans-serif' textLength="30.00" lengthAdjust="spacingAndGlyphs" >ATCC</text>
<text x="773.80" y="453.00" font-size="12" fill="#000" font-family='"Liberation Sans", "DejaVu Sans", sans-serif' textLength="35.40" lengthAdjust="spacingAndGlyphs" >43198</text>
<text x="813.20" y="453.00" font-size="12" fill="#000" font-family='"Liberation Sans", "DejaVu Sans", sans-serif' textLength="62.20" lengthAdjust="spacingAndGlyphs" >KI535313.1</text>
<polyline points="667.60,481.00 667.60,472.40 892.60,472.40 892.60,480.00" fill="none" stroke="#000" stroke-width="1.6" />
<polygon points="663.40,480.40 671.80,480.40 667.60,488.20" fill="#000" />
<polyline points="872.30,487.80 872.30,480.00 914.50,480.00 914.50,487.80" fill="none" stroke="#000" stroke-width="1.6" />
<rect x="624.30" y="495.60" width="334.80" height="50.20" fill="#fff" stroke="#2a2a2a" stroke-width="1" />
<line x1="667.00" y1="494.80" x2="730.00" y2="494.80" stroke="#777" stroke-width="0.8" />
<rect x="905.00" y="513.70" width="12.00" height="14.60" fill="#f6bd84" />
<line x1="626.00" y1="521.60" x2="947.00" y2="521.60" stroke="#333" stroke-width="1" />
<polygon points="626.20,515.60 663.70,515.60 668.50,521.55 663.70,527.50 626.20,527.50" fill="#f0eea0" stroke="#3a3a3a" stroke-width="1" stroke-linejoin="round"/>
<line x1="672.60" y1="505.00" x2="672.60" y2="513.50" stroke="#555" stroke-width="0.6" />
<rect x="671.20" y="513.70" width="2.80" height="15.20" fill="#7a5c94" stroke="#3a2a50" stroke-width="0.7" />
<polygon points="674.60,515.60 725.70,515.60 730.70,521.55 725.70,527.50 674.60,527.50" fill="#f0eea0" stroke="#3a3a3a" stroke-width="1" stroke-linejoin="round"/>
<polygon points="744.90,515.60 736.30,515.60 730.70,521.55 736.30,527.50 744.90,527.50" fill="#f0eea0" stroke="#3a3a3a" stroke-width="1" stroke-linejoin="round"/>
<rect x="744.90" y="516.00" width="2.30" height="11.00" fill="#bdbdbd" />
<polygon points="747.20,515.60 774.70,515.60 776.30,521.55 774.70,527.50 747.20,527.50" fill="#f0eea0" stroke="#3a3a3a" stroke-width="1" stroke-linejoin="round"/>
<polygon points="776.30,515.60 808.10,515.60 811.50,521.55 808.10,527.50 776.30,527.50" fill="#f0eea0" stroke="#3a3a3a" stroke-width="1" stroke-linejoin="round"/>
<polygon points="811.50,515.60 841.60,515.60 843.20,521.55 841.60,527.50 811.50,527.50" fill="#f0eea0" stroke="#3a3a3a" stroke-width="1" stroke-linejoin="round"/>
<polygon points="843.20,515.60 873.10,515.60 876.50,521.55 873.10,527.50 843.20,527.50" fill="#f0eea0" stroke="#3a3a3a" stroke-width="1" stroke-linejoin="round"/>
<polygon points="877.00,513.60 904.60,513.60 911.60,520.70 904.60,527.80 877.00,527.80" fill="#cc99ff" stroke="#000" stroke-width="1.7" stroke-linejoin="round"/>
<rect x="914.50" y="513.50" width="2.50" height="15.10" fill="#7a5c94" stroke="#5a4070" stroke-width="0.5" />
<polygon points="942.60,515.60 924.00,515.60 919.20,521.30 924.00,527.00 942.60,527.00" fill="#bfbfbf" stroke="#3a3a3a" stroke-width="1" stroke-linejoin="round"/>
<line x1="911.60" y1="503.00" x2="914.70" y2="513.60" stroke="#666" stroke-width="0.6" />
<text x="648.60" y="508.00" font-size="10" fill="#333" font-family='"Liberation Sans", "DejaVu Sans", sans-serif' textLength="69.70" lengthAdjust="spacingAndGlyphs" >Putative target</text>
<text x="764.80" y="511.70" font-size="10" fill="#333" font-family='"Liberation Sans", "DejaVu Sans", sans-serif' textLength="78.00" lengthAdjust="spacingAndGlyphs" >ABC transporter</text>
<text x="885.60" y="508.00" font-size="10" fill="#333" font-family='"Liberation Sans", "DejaVu Sans", sans-serif' textLength="67.80" lengthAdjust="spacingAndGlyphs" >Putative guide</text>
<text x="634.20" y="537.80" font-size="10" fill="#333" font-family='"Liberation Sans", "DejaVu Sans", sans-serif' textLength="26.50" lengthAdjust="spacingAndGlyphs" font-style="italic" >oppA</text>
<text x="690.70" y="537.80" font-size="10" fill="#333" font-family='"Liberation Sans", "DejaVu Sans", sans-serif' textLength="25.30" lengthAdjust="spacingAndGlyphs" font-style="italic" >oppA</text>
<text x="746.50" y="537.80" font-size="10" fill="#333" font-family='"Liberation Sans", "DejaVu Sans", sans-serif' textLength="24.50" lengthAdjust="spacingAndGlyphs" font-style="italic" >oppB</text>
<text x="779.70" y="537.80" font-size="10" fill="#333" font-family='"Liberation Sans", "DejaVu Sans", sans-serif' textLength="25.30" lengthAdjust="spacingAndGlyphs" font-style="italic" >oppC</text>
<text x="812.00" y="537.80" font-size="10" fill="#333" font-family='"Liberation Sans", "DejaVu Sans", sans-serif' textLength="26.20" lengthAdjust="spacingAndGlyphs" font-style="italic" >oppD</text>
<text x="843.20" y="537.80" font-size="10" fill="#333" font-family='"Liberation Sans", "DejaVu Sans", sans-serif' textLength="25.00" lengthAdjust="spacingAndGlyphs" font-style="italic" >oppF</text>
<text x="876.40" y="539.00" font-size="10" fill="#222" font-family='"Liberation Sans", "DejaVu Sans", sans-serif' textLength="40.60" lengthAdjust="spacingAndGlyphs" font-weight="bold" font-style="italic" >EcetldR</text>
<text x="925.00" y="537.80" font-size="10" fill="#333" font-family='"Liberation Sans", "DejaVu Sans", sans-serif' textLength="25.00" lengthAdjust="spacingAndGlyphs" font-style="italic" >nudix</text>
<line x1="667.00" y1="544.50" x2="633.50" y2="578.00" stroke="#5b9bd5" stroke-width="1.2" />
<line x1="672.70" y1="544.50" x2="965.00" y2="578.00" stroke="#5b9bd5" stroke-width="1.2" />
<rect x="633.40" y="578.30" width="331.50" height="133.70" fill="#fff" stroke="#000" stroke-width="1.7" />
<polygon points="964.00,621.70 972.30,621.70 972.30,604.00 981.00,640.00 972.30,675.60 972.30,658.70 964.00,658.70" fill="#5b9bd5" stroke="#41719c" stroke-width="0.8" />
<text x="723.50" y="603.00" font-size="14.2" fill="#000" font-family='"Liberation Sans", "DejaVu Sans", sans-serif' textLength="30.30" lengthAdjust="spacingAndGlyphs" >TAM</text>
<text x="771.50" y="605.90" font-size="14.2" fill="#000" font-family='"Liberation Sans", "DejaVu Sans", sans-serif' textLength="41.30" lengthAdjust="spacingAndGlyphs" >Target</text>
<text x="637.20" y="621.40" font-size="12" fill="#000" font-family='"Liberation Sans", "DejaVu Sans", sans-serif' textLength="14.00" lengthAdjust="spacingAndGlyphs" >5’-</text>
<text x="659.90" y="621.40" font-size="12" fill="#595959" font-family='"Liberation Mono", "DejaVu Sans Mono", monospace' textLength="57.71" lengthAdjust="spacingAndGlyphs" >TTGAATT</text>
<text x="718.21" y="621.40" font-size="12" fill="#ff0000" font-family='"Liberation Mono", "DejaVu Sans Mono", monospace' textLength="41.05" lengthAdjust="spacingAndGlyphs" >TTTAA</text>
<text x="759.86" y="621.40" font-size="12.2" fill="#ff0000" font-family='"Liberation Mono", "DejaVu Sans Mono", monospace' textLength="132.68" lengthAdjust="spacingAndGlyphs" font-weight="bold" >TAATTATTATTTAAAA</text>
<text x="893.14" y="621.40" font-size="12" fill="#595959" font-family='"Liberation Mono", "DejaVu Sans Mono", monospace' textLength="49.38" lengthAdjust="spacingAndGlyphs" >TTGCAG</text>
<text x="945.20" y="621.40" font-size="12" fill="#000" font-family='"Liberation Sans", "DejaVu Sans", sans-serif' textLength="14.00" lengthAdjust="spacingAndGlyphs" >-3’</text>
<text x="637.20" y="645.80" font-size="12" fill="#000" font-family='"Liberation Sans", "DejaVu Sans", sans-serif' textLength="14.00" lengthAdjust="spacingAndGlyphs" >3’-</text>
<text x="659.90" y="645.80" font-size="12" fill="#595959" font-family='"Liberation Mono", "DejaVu Sans Mono", monospace' textLength="57.71" lengthAdjust="spacingAndGlyphs" >AACTTAA</text>
<text x="718.21" y="645.80" font-size="12" fill="#ff0000" font-family='"Liberation Mono", "DejaVu Sans Mono", monospace' textLength="41.05" lengthAdjust="spacingAndGlyphs" >AAATT</text>
<text x="759.86" y="645.80" font-size="12.2" fill="#ff0000" font-family='"Liberation Mono", "DejaVu Sans Mono", monospace' textLength="132.68" lengthAdjust="spacingAndGlyphs" font-weight="bold" >ATTAATAATAAATTTT</text>
<text x="893.14" y="645.80" font-size="12" fill="#595959" font-family='"Liberation Mono", "DejaVu Sans Mono", monospace' textLength="49.38" lengthAdjust="spacingAndGlyphs" >AACGTC</text>
<text x="945.20" y="645.80" font-size="12" fill="#000" font-family='"Liberation Sans", "DejaVu Sans", sans-serif' textLength="14.00" lengthAdjust="spacingAndGlyphs" >-5’</text>
<text x="741.50" y="673.30" font-size="12" fill="#000" font-family='"Liberation Sans", "DejaVu Sans", sans-serif' textLength="15.50" lengthAdjust="spacingAndGlyphs" >5’-</text>
<text x="759.86" y="673.30" font-size="12.2" fill="#ff0000" font-family='"Liberation Mono", "DejaVu Sans Mono", monospace' textLength="132.68" lengthAdjust="spacingAndGlyphs" font-weight="bold" >TAATTATGAAAAACCA</text>
<text x="903.20" y="673.30" font-size="12" fill="#000" font-family='"Liberation Sans", "DejaVu Sans", sans-serif' textLength="14.00" lengthAdjust="spacingAndGlyphs" >-3’</text>
<text x="671.00" y="691.50" font-size="14.2" fill="#000" font-family='"Liberation Sans", "DejaVu Sans", sans-serif' textLength="23.00" lengthAdjust="spacingAndGlyphs" >-35</text>
<text x="790.70" y="692.40" font-size="14.2" fill="#000" font-family='"Liberation Sans", "DejaVu Sans", sans-serif' textLength="40.40" lengthAdjust="spacingAndGlyphs" >Guide</text>
<text x="851.00" y="691.50" font-size="14.2" fill="#000" font-family='"Liberation Sans", "DejaVu Sans", sans-serif' textLength="22.80" lengthAdjust="spacingAndGlyphs" >-10</text>
<rect x="653.00" y="603.80" width="56.00" height="72.00" fill="rgba(112,150,80,0.25)" stroke="#4a79a6" stroke-width="1.3" />
<rect x="717.00" y="608.80" width="41.70" height="42.40" fill="rgba(255,255,20,0.29)" stroke="#4a79a6" stroke-width="1.3" />
<rect x="825.70" y="605.70" width="73.90" height="71.90" fill="rgba(112,150,80,0.25)" stroke="#4a79a6" stroke-width="1.3" />
<text x="552.20" y="739.00" font-size="15.4" fill="#000" font-family='"Liberation Sans", "DejaVu Sans", sans-serif' textLength="58.50" lengthAdjust="spacingAndGlyphs" >Weigand</text>
<text x="614.80" y="739.00" font-size="15.4" fill="#000" font-family='"Liberation Sans", "DejaVu Sans", sans-serif' textLength="12.60" lengthAdjust="spacingAndGlyphs" >et</text>
<text x="631.60" y="739.00" font-size="15.4" fill="#000" font-family='"Liberation Sans", "DejaVu Sans", sans-serif' textLength="21.20" lengthAdjust="spacingAndGlyphs" >al.,</text>
<text x="656.20" y="739.00" font-size="15.4" fill="#000" font-family='"Liberation Sans", "DejaVu Sans", sans-serif' textLength="37.30" lengthAdjust="spacingAndGlyphs" >2023,</text>
<text x="697.80" y="739.00" font-size="15.4" fill="#000" font-family='"Liberation Sans", "DejaVu Sans", sans-serif' textLength="42.30" lengthAdjust="spacingAndGlyphs" >PMID:</text>
<text x="743.80" y="739.00" font-size="15.4" fill="#0563c1" font-family='"Liberation Sans", "DejaVu Sans", sans-serif' textLength="68.40" lengthAdjust="spacingAndGlyphs" text-decoration="underline">38076855</text>
<text x="816.40" y="739.00" font-size="15.4" fill="#000" font-family='"Liberation Sans", "DejaVu Sans", sans-serif' textLength="4.60" lengthAdjust="spacingAndGlyphs" >;</text>
<text x="824.40" y="739.00" font-size="15.4" fill="#000" font-family='"Liberation Sans", "DejaVu Sans", sans-serif' textLength="37.20" lengthAdjust="spacingAndGlyphs" >2024,</text>
<text x="865.80" y="739.00" font-size="15.4" fill="#000" font-family='"Liberation Sans", "DejaVu Sans", sans-serif' textLength="42.50" lengthAdjust="spacingAndGlyphs" >PMID:</text>
<text x="911.80" y="739.00" font-size="15.4" fill="#0563c1" font-family='"Liberation Sans", "DejaVu Sans", sans-serif' textLength="68.30" lengthAdjust="spacingAndGlyphs" text-decoration="underline">38926585</text>
<line x1="357.07" y1="312.50" x2="357.07" y2="325.00" stroke="#5b9bd5" stroke-width="1.5"/>
<line x1="365.41" y1="312.50" x2="365.41" y2="325.00" stroke="#5b9bd5" stroke-width="1.5"/>
<line x1="373.75" y1="312.50" x2="373.75" y2="325.00" stroke="#5b9bd5" stroke-width="1.5"/>
<line x1="382.09" y1="312.50" x2="382.09" y2="325.00" stroke="#5b9bd5" stroke-width="1.5"/>
<line x1="390.43" y1="312.50" x2="390.43" y2="325.00" stroke="#5b9bd5" stroke-width="1.5"/>
<line x1="398.77" y1="312.50" x2="398.77" y2="325.00" stroke="#5b9bd5" stroke-width="1.5"/>
<line x1="407.11" y1="312.50" x2="407.11" y2="325.00" stroke="#5b9bd5" stroke-width="1.5"/>
<line x1="415.45" y1="312.50" x2="415.45" y2="325.00" stroke="#5b9bd5" stroke-width="1.5"/>
<line x1="423.79" y1="312.50" x2="423.79" y2="325.00" stroke="#5b9bd5" stroke-width="1.5"/>
<line x1="432.13" y1="312.50" x2="432.13" y2="325.00" stroke="#5b9bd5" stroke-width="1.5"/>
<line x1="573.91" y1="312.50" x2="573.91" y2="325.00" stroke="#5b9bd5" stroke-width="1.5"/>
<line x1="582.25" y1="312.50" x2="582.25" y2="325.00" stroke="#5b9bd5" stroke-width="1.5"/>
<line x1="590.59" y1="312.50" x2="590.59" y2="325.00" stroke="#5b9bd5" stroke-width="1.5"/>
<line x1="598.93" y1="312.50" x2="598.93" y2="325.00" stroke="#5b9bd5" stroke-width="1.5"/>
<line x1="607.27" y1="312.50" x2="607.27" y2="325.00" stroke="#5b9bd5" stroke-width="1.5"/>
<line x1="440.47" y1="336.30" x2="440.47" y2="348.80" stroke="#5b9bd5" stroke-width="1.5"/>
<line x1="448.81" y1="336.30" x2="448.81" y2="348.80" stroke="#5b9bd5" stroke-width="1.5"/>
<line x1="457.15" y1="336.30" x2="457.15" y2="348.80" stroke="#5b9bd5" stroke-width="1.5"/>
<line x1="465.49" y1="336.30" x2="465.49" y2="348.80" stroke="#5b9bd5" stroke-width="1.5"/>
<line x1="473.83" y1="336.30" x2="473.83" y2="348.80" stroke="#5b9bd5" stroke-width="1.5"/>
<line x1="482.17" y1="336.30" x2="482.17" y2="348.80" stroke="#5b9bd5" stroke-width="1.5"/>
<line x1="490.51" y1="336.30" x2="490.51" y2="348.80" stroke="#5b9bd5" stroke-width="1.5"/>
<line x1="498.85" y1="336.30" x2="498.85" y2="348.80" stroke="#5b9bd5" stroke-width="1.5"/>
<line x1="507.19" y1="336.30" x2="507.19" y2="348.80" stroke="#5b9bd5" stroke-width="1.5"/>
<line x1="515.53" y1="336.30" x2="515.53" y2="348.80" stroke="#5b9bd5" stroke-width="1.5"/>
<line x1="523.87" y1="336.30" x2="523.87" y2="348.80" stroke="#5b9bd5" stroke-width="1.5"/>
<line x1="532.21" y1="336.30" x2="532.21" y2="348.80" stroke="#5b9bd5" stroke-width="1.5"/>
<line x1="557.23" y1="336.30" x2="557.23" y2="348.80" stroke="#5b9bd5" stroke-width="1.5"/>
<line x1="174.28" y1="609.60" x2="174.28" y2="621.80" stroke="#5b9bd5" stroke-width="1.5"/>
<line x1="182.59" y1="609.60" x2="182.59" y2="621.80" stroke="#5b9bd5" stroke-width="1.5"/>
<line x1="190.91" y1="609.60" x2="190.91" y2="621.80" stroke="#5b9bd5" stroke-width="1.5"/>
<line x1="199.22" y1="609.60" x2="199.22" y2="621.80" stroke="#5b9bd5" stroke-width="1.5"/>
<line x1="207.53" y1="609.60" x2="207.53" y2="621.80" stroke="#5b9bd5" stroke-width="1.5"/>
<line x1="215.84" y1="609.60" x2="215.84" y2="621.80" stroke="#5b9bd5" stroke-width="1.5"/>
<line x1="224.15" y1="609.60" x2="224.15" y2="621.80" stroke="#5b9bd5" stroke-width="1.5"/>
<line x1="232.46" y1="609.60" x2="232.46" y2="621.80" stroke="#5b9bd5" stroke-width="1.5"/>
<line x1="66.25" y1="633.30" x2="66.25" y2="646.00" stroke="#5b9bd5" stroke-width="1.5"/>
<line x1="74.56" y1="633.30" x2="74.56" y2="646.00" stroke="#5b9bd5" stroke-width="1.5"/>
<line x1="82.88" y1="633.30" x2="82.88" y2="646.00" stroke="#5b9bd5" stroke-width="1.5"/>
<line x1="91.19" y1="633.30" x2="91.19" y2="646.00" stroke="#5b9bd5" stroke-width="1.5"/>
<line x1="99.50" y1="633.30" x2="99.50" y2="646.00" stroke="#5b9bd5" stroke-width="1.5"/>
<line x1="107.81" y1="633.30" x2="107.81" y2="646.00" stroke="#5b9bd5" stroke-width="1.5"/>
<line x1="116.12" y1="633.30" x2="116.12" y2="646.00" stroke="#5b9bd5" stroke-width="1.5"/>
<line x1="124.43" y1="633.30" x2="124.43" y2="646.00" stroke="#5b9bd5" stroke-width="1.5"/>
<line x1="132.74" y1="633.30" x2="132.74" y2="646.00" stroke="#5b9bd5" stroke-width="1.5"/>
<line x1="141.05" y1="633.30" x2="141.05" y2="646.00" stroke="#5b9bd5" stroke-width="1.5"/>
<line x1="149.36" y1="633.30" x2="149.36" y2="646.00" stroke="#5b9bd5" stroke-width="1.5"/>
<line x1="157.67" y1="633.30" x2="157.67" y2="646.00" stroke="#5b9bd5" stroke-width="1.5"/>
<line x1="241.87" y1="633.30" x2="241.87" y2="646.00" stroke="#5b9bd5" stroke-width="1.5"/>
<line x1="250.18" y1="633.30" x2="250.18" y2="646.00" stroke="#5b9bd5" stroke-width="1.5"/>
<line x1="258.49" y1="633.30" x2="258.49" y2="646.00" stroke="#5b9bd5" stroke-width="1.5"/>
<line x1="266.80" y1="633.30" x2="266.80" y2="646.00" stroke="#5b9bd5" stroke-width="1.5"/>
<line x1="275.11" y1="633.30" x2="275.11" y2="646.00" stroke="#5b9bd5" stroke-width="1.5"/>
<line x1="283.42" y1="633.30" x2="283.42" y2="646.00" stroke="#5b9bd5" stroke-width="1.5"/>
<line x1="291.73" y1="633.30" x2="291.73" y2="646.00" stroke="#5b9bd5" stroke-width="1.5"/>
<line x1="300.04" y1="633.30" x2="300.04" y2="646.00" stroke="#5b9bd5" stroke-width="1.5"/>
<line x1="308.35" y1="633.30" x2="308.35" y2="646.00" stroke="#5b9bd5" stroke-width="1.5"/>
<line x1="316.66" y1="633.30" x2="316.66" y2="646.00" stroke="#5b9bd5" stroke-width="1.5"/>
<line x1="662.70" y1="624.20" x2="662.70" y2="636.20" stroke="#5b9bd5" stroke-width="1.5"/>
<line x1="671.07" y1="624.20" x2="671.07" y2="636.20" stroke="#5b9bd5" stroke-width="1.5"/>
<line x1="679.45" y1="624.20" x2="679.45" y2="636.20" stroke="#5b9bd5" stroke-width="1.5"/>
<line x1="687.82" y1="624.20" x2="687.82" y2="636.20" stroke="#5b9bd5" stroke-width="1.5"/>
<line x1="696.19" y1="624.20" x2="696.19" y2="636.20" stroke="#5b9bd5" stroke-width="1.5"/>
<line x1="704.57" y1="624.20" x2="704.57" y2="636.20" stroke="#5b9bd5" stroke-width="1.5"/>
<line x1="712.94" y1="624.20" x2="712.94" y2="636.20" stroke="#5b9bd5" stroke-width="1.5"/>
<line x1="721.31" y1="624.20" x2="721.31" y2="636.20" stroke="#5b9bd5" stroke-width="1.5"/>
<line x1="729.68" y1="624.20" x2="729.68" y2="636.20" stroke="#5b9bd5" stroke-width="1.5"/>
<line x1="738.06" y1="624.20" x2="738.06" y2="636.20" stroke="#5b9bd5" stroke-width="1.5"/>
<line x1="746.43" y1="624.20" x2="746.43" y2="636.20" stroke="#5b9bd5" stroke-width="1.5"/>
<line x1="754.80" y1="624.20" x2="754.80" y2="636.20" stroke="#5b9bd5" stroke-width="1.5"/>
<line x1="763.30" y1="650.20" x2="763.30" y2="662.80" stroke="#5b9bd5" stroke-width="1.5"/>
<line x1="771.55" y1="650.20" x2="771.55" y2="662.80" stroke="#5b9bd5" stroke-width="1.5"/>
<line x1="779.80" y1="650.20" x2="779.80" y2="662.80" stroke="#5b9bd5" stroke-width="1.5"/>
<line x1="788.05" y1="650.20" x2="788.05" y2="662.80" stroke="#5b9bd5" stroke-width="1.5"/>
<line x1="796.30" y1="650.20" x2="796.30" y2="662.80" stroke="#5b9bd5" stroke-width="1.5"/>
<line x1="804.55" y1="650.20" x2="804.55" y2="662.80" stroke="#5b9bd5" stroke-width="1.5"/>
<line x1="812.80" y1="650.20" x2="812.80" y2="662.80" stroke="#5b9bd5" stroke-width="1.5"/>
<line x1="829.30" y1="650.20" x2="829.30" y2="662.80" stroke="#5b9bd5" stroke-width="1.5"/>
<line x1="862.30" y1="650.20" x2="862.30" y2="662.80" stroke="#5b9bd5" stroke-width="1.5"/>
<line x1="887.05" y1="650.20" x2="887.05" y2="662.80" stroke="#5b9bd5" stroke-width="1.5"/>
<rect x="360.30" y="415.10" width="252.10" height="96.90" fill="#fff" stroke="#000" stroke-width="1.5" />
<filter id="bl" x="-5%" y="-5%" width="110%" height="110%"><feGaussianBlur stdDeviation="0.35"/></filter>
<g filter="url(#bl)">
<text transform="translate(435.80,458.20) scale(1,2.277)" font-size="10" font-weight="bold" font-family='"Liberation Sans", "DejaVu Sans", sans-serif' textLength="7.40" lengthAdjust="spacingAndGlyphs" fill="#7b4fa6">C</text>
<text transform="translate(443.20,458.20) scale(1,2.277)" font-size="10" font-weight="bold" font-family='"Liberation Sans", "DejaVu Sans", sans-serif' textLength="7.40" lengthAdjust="spacingAndGlyphs" fill="#a98bc8">G</text>
<text transform="translate(450.60,458.20) scale(1,2.277)" font-size="10" font-weight="bold" font-family='"Liberation Sans", "DejaVu Sans", sans-serif' textLength="8.20" lengthAdjust="spacingAndGlyphs" fill="#5c2d91">T</text>
<text transform="translate(458.80,458.20) scale(1,2.277)" font-size="10" font-weight="bold" font-family='"Liberation Sans", "DejaVu Sans", sans-serif' textLength="7.40" lengthAdjust="spacingAndGlyphs" fill="#7b4fa6">C</text>
<text transform="translate(466.20,458.20) scale(1,2.277)" font-size="10" font-weight="bold" font-family='"Liberation Sans", "DejaVu Sans", sans-serif' textLength="8.20" lengthAdjust="spacingAndGlyphs" fill="#5c2d91">T</text>
<text transform="translate(474.40,458.20) scale(1,2.179)" font-size="10" font-weight="bold" font-family='"Liberation Sans", "DejaVu Sans", sans-serif' textLength="7.80" lengthAdjust="spacingAndGlyphs" fill="#b9a0d6">G</text>
<text transform="translate(482.80,458.20) scale(1,1.313)" font-size="10" font-weight="bold" font-family='"Liberation Sans", "DejaVu Sans", sans-serif' textLength="9.60" lengthAdjust="spacingAndGlyphs" fill="#a98bc8">G</text>
<text transform="translate(492.40,458.20) scale(1,1.508)" font-size="10" font-weight="bold" font-family='"Liberation Sans", "DejaVu Sans", sans-serif' textLength="7.10" lengthAdjust="spacingAndGlyphs" fill="#5c2d91">T</text>
<text transform="translate(499.50,458.20) scale(1,1.453)" font-size="10" font-weight="bold" font-family='"Liberation Sans", "DejaVu Sans", sans-serif' textLength="6.50" lengthAdjust="spacingAndGlyphs" fill="#7b4fa6">C</text>
<text transform="translate(521.60,458.20) scale(1,0.908)" font-size="10" font-weight="bold" font-family='"Liberation Sans", "DejaVu Sans", sans-serif' textLength="7.20" lengthAdjust="spacingAndGlyphs" fill="#8a5cb8">A</text>
<text transform="translate(530.00,458.20) scale(1,1.089)" font-size="10" font-weight="bold" font-family='"Liberation Sans", "DejaVu Sans", sans-serif' textLength="7.20" lengthAdjust="spacingAndGlyphs" fill="#5c2d91">T</text>
<line x1="483.00" y1="458.60" x2="506.00" y2="458.60" stroke="#b9a0d6" stroke-width="0.9" />
<line x1="507.00" y1="457.20" x2="521.00" y2="457.20" stroke="#b9a0d6" stroke-width="0.9" />
<line x1="508.00" y1="458.40" x2="520.00" y2="458.40" stroke="#a98bc8" stroke-width="0.9" />
<line x1="521.60" y1="458.80" x2="528.80" y2="458.80" stroke="#5c2d91" stroke-width="0.9" />
<line x1="538.00" y1="456.20" x2="561.00" y2="456.20" stroke="#b9a0d6" stroke-width="0.9" />
<line x1="545.00" y1="455.40" x2="550.00" y2="455.40" stroke="#8a5cb8" stroke-width="0.9" />
<line x1="553.00" y1="455.40" x2="558.00" y2="455.40" stroke="#8a5cb8" stroke-width="0.9" />
<line x1="530.00" y1="458.90" x2="537.00" y2="458.90" stroke="#a98bc8" stroke-width="0.9" />
<text transform="translate(399.70,482.90) scale(1,2.416)" font-size="10" font-weight="bold" font-family='"Liberation Sans", "DejaVu Sans", sans-serif' textLength="7.10" lengthAdjust="spacingAndGlyphs" fill="#7a6a1e">G</text>
<text transform="translate(406.80,482.90) scale(1,2.416)" font-size="10" font-weight="bold" font-family='"Liberation Sans", "DejaVu Sans", sans-serif' textLength="6.50" lengthAdjust="spacingAndGlyphs" fill="#d4c130">T</text>
<text transform="translate(413.30,482.90) scale(1,2.416)" font-size="10" font-weight="bold" font-family='"Liberation Sans", "DejaVu Sans", sans-serif' textLength="6.50" lengthAdjust="spacingAndGlyphs" fill="#d4c130">T</text>
<text transform="translate(419.80,482.90) scale(1,2.416)" font-size="10" font-weight="bold" font-family='"Liberation Sans", "DejaVu Sans", sans-serif' textLength="7.20" lengthAdjust="spacingAndGlyphs" fill="#cdb92e">A</text>
<text transform="translate(427.00,482.90) scale(1,2.416)" font-size="10" font-weight="bold" font-family='"Liberation Sans", "DejaVu Sans", sans-serif' textLength="6.20" lengthAdjust="spacingAndGlyphs" fill="#d4c130">T</text>
<text transform="translate(435.60,482.90) scale(1,1.453)" font-size="10" font-weight="bold" font-family='"Liberation Sans", "DejaVu Sans", sans-serif' textLength="7.20" lengthAdjust="spacingAndGlyphs" fill="#9b72c0">C</text>
<text transform="translate(442.80,482.90) scale(1,2.542)" font-size="10" font-weight="bold" font-family='"Liberation Sans", "DejaVu Sans", sans-serif' textLength="7.80" lengthAdjust="spacingAndGlyphs" fill="#a98bc8">G</text>
<text transform="translate(450.60,482.90) scale(1,2.542)" font-size="10" font-weight="bold" font-family='"Liberation Sans", "DejaVu Sans", sans-serif' textLength="8.20" lengthAdjust="spacingAndGlyphs" fill="#5c2d91">T</text>
<text transform="translate(458.80,482.90) scale(1,2.542)" font-size="10" font-weight="bold" font-family='"Liberation Sans", "DejaVu Sans", sans-serif' textLength="7.40" lengthAdjust="spacingAndGlyphs" fill="#8a5cb8">C</text>
<text transform="translate(466.20,482.90) scale(1,2.542)" font-size="10" font-weight="bold" font-family='"Liberation Sans", "DejaVu Sans", sans-serif' textLength="8.20" lengthAdjust="spacingAndGlyphs" fill="#5c2d91">T</text>
<text transform="translate(474.40,482.90) scale(1,2.458)" font-size="10" font-weight="bold" font-family='"Liberation Sans", "DejaVu Sans", sans-serif' textLength="7.80" lengthAdjust="spacingAndGlyphs" fill="#b9a0d6">G</text>
<text transform="translate(482.80,482.90) scale(1,1.131)" font-size="10" font-weight="bold" font-family='"Liberation Sans", "DejaVu Sans", sans-serif' textLength="8.90" lengthAdjust="spacingAndGlyphs" fill="#a98bc8">G</text>
<text transform="translate(491.70,482.90) scale(1,1.271)" font-size="10" font-weight="bold" font-family='"Liberation Sans", "DejaVu Sans", sans-serif' textLength="7.20" lengthAdjust="spacingAndGlyphs" fill="#5c2d91">T</text>
<text transform="translate(499.20,482.90) scale(1,2.458)" font-size="10" font-weight="bold" font-family='"Liberation Sans", "DejaVu Sans", sans-serif' textLength="7.80" lengthAdjust="spacingAndGlyphs" fill="#7b4fa6">C</text>
<text transform="translate(507.30,482.10) scale(1,0.587)" font-size="10" font-weight="bold" font-family='"Liberation Sans", "DejaVu Sans", sans-serif' textLength="7.20" lengthAdjust="spacingAndGlyphs" fill="#a98bc8">C</text>
<text transform="translate(514.50,482.10) scale(1,0.615)" font-size="10" font-weight="bold" font-family='"Liberation Sans", "DejaVu Sans", sans-serif' textLength="7.80" lengthAdjust="spacingAndGlyphs" fill="#a98bc8">A</text>
<text transform="translate(522.90,482.90) scale(1,1.369)" font-size="10" font-weight="bold" font-family='"Liberation Sans", "DejaVu Sans", sans-serif' textLength="8.50" lengthAdjust="spacingAndGlyphs" fill="#8a5cb8">A</text>
<text transform="translate(531.40,482.90) scale(1,1.187)" font-size="10" font-weight="bold" font-family='"Liberation Sans", "DejaVu Sans", sans-serif' textLength="7.80" lengthAdjust="spacingAndGlyphs" fill="#8a5cb8">A</text>
<text transform="translate(539.20,482.10) scale(1,0.796)" font-size="10" font-weight="bold" font-family='"Liberation Sans", "DejaVu Sans", sans-serif' textLength="7.10" lengthAdjust="spacingAndGlyphs" fill="#8a5cb8">A</text>
<text transform="translate(546.30,482.90) scale(1,2.458)" font-size="10" font-weight="bold" font-family='"Liberation Sans", "DejaVu Sans", sans-serif' textLength="7.80" lengthAdjust="spacingAndGlyphs" fill="#7b4fa6">C</text>
<text transform="translate(554.10,482.90) scale(1,2.458)" font-size="10" font-weight="bold" font-family='"Liberation Sans", "DejaVu Sans", sans-serif' textLength="7.80" lengthAdjust="spacingAndGlyphs" fill="#5a4380">A</text>
<line x1="435.60" y1="483.20" x2="442.80" y2="483.20" stroke="#b9a0d6" stroke-width="0.9" />
<line x1="484.00" y1="483.30" x2="499.00" y2="483.30" stroke="#b9a0d6" stroke-width="0.9" />
<line x1="507.30" y1="483.20" x2="546.00" y2="483.20" stroke="#b9a0d6" stroke-width="0.9" />
<line x1="509.00" y1="484.20" x2="513.00" y2="484.20" stroke="#8a5cb8" stroke-width="0.9" />
<line x1="524.00" y1="484.20" x2="529.00" y2="484.20" stroke="#5c2d91" stroke-width="0.9" />
<line x1="533.00" y1="484.00" x2="545.00" y2="484.00" stroke="#a98bc8" stroke-width="0.9" />
<line x1="434.40" y1="437.40" x2="434.40" y2="458.20" stroke="#222" stroke-width="0.6" />
<line x1="432.80" y1="437.40" x2="434.40" y2="437.40" stroke="#222" stroke-width="0.6" />
<text x="432.20" y="439.00" font-size="4.6" fill="#222" font-family='"Liberation Sans", "DejaVu Sans", sans-serif' text-anchor="end" >2</text>
<line x1="432.80" y1="447.80" x2="434.40" y2="447.80" stroke="#222" stroke-width="0.6" />
<text x="432.20" y="449.40" font-size="4.6" fill="#222" font-family='"Liberation Sans", "DejaVu Sans", sans-serif' text-anchor="end" >1</text>
<line x1="432.80" y1="458.20" x2="434.40" y2="458.20" stroke="#222" stroke-width="0.6" />
<text x="432.20" y="459.80" font-size="4.6" fill="#222" font-family='"Liberation Sans", "DejaVu Sans", sans-serif' text-anchor="end" >0</text>
<line x1="398.60" y1="462.70" x2="398.60" y2="482.40" stroke="#222" stroke-width="0.6" />
<line x1="397.00" y1="462.70" x2="398.60" y2="462.70" stroke="#222" stroke-width="0.6" />
<text x="396.20" y="464.30" font-size="4.6" fill="#222" font-family='"Liberation Sans", "DejaVu Sans", sans-serif' text-anchor="end" >2</text>
<line x1="397.00" y1="472.55" x2="398.60" y2="472.55" stroke="#222" stroke-width="0.6" />
<text x="396.20" y="474.15" font-size="4.6" fill="#222" font-family='"Liberation Sans", "DejaVu Sans", sans-serif' text-anchor="end" >1</text>
<line x1="397.00" y1="482.40" x2="398.60" y2="482.40" stroke="#222" stroke-width="0.6" />
<text x="396.20" y="484.00" font-size="4.6" fill="#222" font-family='"Liberation Sans", "DejaVu Sans", sans-serif' text-anchor="end" >0</text>
<line x1="434.40" y1="461.50" x2="434.40" y2="485.00" stroke="#333" stroke-width="0.7" stroke-dasharray="1.2,1.2"/>
<text x="380.20" y="459.00" font-size="4.9" fill="#222" font-family='"Liberation Sans", "DejaVu Sans", sans-serif' textLength="22.40" lengthAdjust="spacingAndGlyphs" >Size (bits)</text>
<text x="518" y="442.3" font-size="5" fill="#111" font-family='"Liberation Sans", "DejaVu Sans", sans-serif' textLength="37" lengthAdjust="spacingAndGlyphs" font-weight="bold"><tspan font-style="italic">fliC</tspan><tspan font-size="3.6" dy="0.9" font-style="italic">P</tspan><tspan dy="-0.9"> associated</tspan></text>
<rect x="379.5" y="465" width="9.4" height="17.9" rx="2.2" fill="#d4c130"/>
<text transform="translate(382.4,466.6) rotate(90)" font-size="5" font-weight="bold" fill="#fff" font-family='"Liberation Sans", "DejaVu Sans", sans-serif' textLength="14.8" lengthAdjust="spacingAndGlyphs">TAMs</text>
<rect x="569.3" y="436" width="8.9" height="23.1" rx="2.2" fill="#7030a0"/>
<text transform="translate(575.6,457.3) rotate(-90)" font-size="5.2" font-weight="bold" fill="#fff" font-family='"Liberation Sans", "DejaVu Sans", sans-serif' textLength="19.4" lengthAdjust="spacingAndGlyphs">Guides</text>
<rect x="569.3" y="462.4" width="8.9" height="22.6" rx="2.2" fill="#9a6fc6"/>
<text transform="translate(575.6,483.6) rotate(-90)" font-size="5.2" font-weight="bold" fill="#fff" font-family='"Liberation Sans", "DejaVu Sans", sans-serif' textLength="19.8" lengthAdjust="spacingAndGlyphs">Targets</text>
<polygon points="374.00,490.10 377.60,486.80 394.00,486.80 394.00,493.50 377.60,493.50" fill="#c49a6c" stroke="#7a5a3a" stroke-width="0.5" />
<text x="381.30" y="492.10" font-size="5" fill="#fff" font-family='"Liberation Sans", "DejaVu Sans", sans-serif' textLength="9.40" lengthAdjust="spacingAndGlyphs" font-style="italic" >fliC</text>
<line x1="394.30" y1="490.20" x2="400.40" y2="490.20" stroke="#aaa" stroke-width="0.6" stroke-dasharray="1.2,1"/>
<rect x="404.90" y="487.00" width="61.70" height="6.60" fill="#bcae95" />
<rect x="575.30" y="487.00" width="20.70" height="6.60" fill="#bcae95" />
<text x="402.20" y="492.60" font-size="5.6" fill="#bbb" font-family='"Liberation Mono", "DejaVu Sans Mono", monospace' text-anchor="middle" >G</text>
<text x="408.60" y="492.60" font-size="5.6" fill="#f1ece2" font-family='"Liberation Mono", "DejaVu Sans Mono", monospace' text-anchor="middle" >T</text>
<text x="416.30" y="492.60" font-size="5.6" fill="#f1ece2" font-family='"Liberation Mono", "DejaVu Sans Mono", monospace' text-anchor="middle" >T</text>
<text x="424.00" y="492.60" font-size="5.6" fill="#f1ece2" font-family='"Liberation Mono", "DejaVu Sans Mono", monospace' text-anchor="middle" >A</text>
<text x="431.80" y="492.60" font-size="5.6" fill="#f1ece2" font-family='"Liberation Mono", "DejaVu Sans Mono", monospace' text-anchor="middle" >T</text>
<text x="439.60" y="492.60" font-size="5.6" fill="#f1ece2" font-family='"Liberation Mono", "DejaVu Sans Mono", monospace' text-anchor="middle" >C</text>
<text x="447.30" y="492.60" font-size="5.6" fill="#f1ece2" font-family='"Liberation Mono", "DejaVu Sans Mono", monospace' text-anchor="middle" >G</text>
<text x="455.30" y="492.60" font-size="5.6" fill="#f1ece2" font-family='"Liberation Mono", "DejaVu Sans Mono", monospace' text-anchor="middle" >T</text>
<text x="463.00" y="492.60" font-size="5.6" fill="#f1ece2" font-family='"Liberation Mono", "DejaVu Sans Mono", monospace' text-anchor="middle" >C</text>
<text x="470.60" y="492.60" font-size="5.6" fill="#bdbdbd" font-family='"Liberation Mono", "DejaVu Sans Mono", monospace' text-anchor="middle" >T</text>
<text x="478.40" y="492.60" font-size="5.6" fill="#bdbdbd" font-family='"Liberation Mono", "DejaVu Sans Mono", monospace' text-anchor="middle" >G</text>
<text x="486.00" y="492.60" font-size="5.6" fill="#bdbdbd" font-family='"Liberation Mono", "DejaVu Sans Mono", monospace' text-anchor="middle" >T</text>
<text x="493.70" y="492.60" font-size="5.6" fill="#bdbdbd" font-family='"Liberation Mono", "DejaVu Sans Mono", monospace' text-anchor="middle" >C</text>
<text x="501.50" y="492.60" font-size="5.6" fill="#bdbdbd" font-family='"Liberation Mono", "DejaVu Sans Mono", monospace' text-anchor="middle" >G</text>
<text x="509.30" y="492.60" font-size="5.6" fill="#bdbdbd" font-family='"Liberation Mono", "DejaVu Sans Mono", monospace' text-anchor="middle" >T</text>
<text x="517.70" y="492.60" font-size="5.6" fill="#bdbdbd" font-family='"Liberation Mono", "DejaVu Sans Mono", monospace' text-anchor="middle" >A</text>
<text x="524.90" y="492.60" font-size="5.6" fill="#bdbdbd" font-family='"Liberation Mono", "DejaVu Sans Mono", monospace' text-anchor="middle" >A</text>
<text x="532.70" y="492.60" font-size="5.6" fill="#bdbdbd" font-family='"Liberation Mono", "DejaVu Sans Mono", monospace' text-anchor="middle" >A</text>
<text x="539.80" y="492.60" font-size="5.6" fill="#bdbdbd" font-family='"Liberation Mono", "DejaVu Sans Mono", monospace' text-anchor="middle" >A</text>
<text x="548.30" y="492.60" font-size="5.6" fill="#bdbdbd" font-family='"Liberation Mono", "DejaVu Sans Mono", monospace' text-anchor="middle" >C</text>
<text x="555.40" y="492.60" font-size="5.6" fill="#bdbdbd" font-family='"Liberation Mono", "DejaVu Sans Mono", monospace' text-anchor="middle" >A</text>
<text x="565.20" y="492.60" font-size="5.6" fill="#bdbdbd" font-family='"Liberation Mono", "DejaVu Sans Mono", monospace' text-anchor="middle" >A</text>
<text x="571.40" y="492.60" font-size="5.6" fill="#bdbdbd" font-family='"Liberation Mono", "DejaVu Sans Mono", monospace' text-anchor="middle" >C</text>
<text x="576.20" y="492.60" font-size="5.6" fill="#f1ece2" font-family='"Liberation Mono", "DejaVu Sans Mono", monospace' textLength="19.00" lengthAdjust="spacingAndGlyphs" >CTTTA</text>
<text x="431.20" y="498.90" font-size="4.6" fill="#222" font-family='"Liberation Sans", "DejaVu Sans", sans-serif' textLength="7.80" lengthAdjust="spacingAndGlyphs" >-10</text>
<text x="535.30" y="499.10" font-size="4.8" fill="#999" font-family='"Liberation Sans", "DejaVu Sans", sans-serif' textLength="25.60" lengthAdjust="spacingAndGlyphs" font-style="italic" >E. coli K12</text>
<text x="580.80" y="499.00" font-size="4.6" fill="#222" font-family='"Liberation Sans", "DejaVu Sans", sans-serif' textLength="7.80" lengthAdjust="spacingAndGlyphs" >-35</text>
</g>
</svg>
</body></html>
